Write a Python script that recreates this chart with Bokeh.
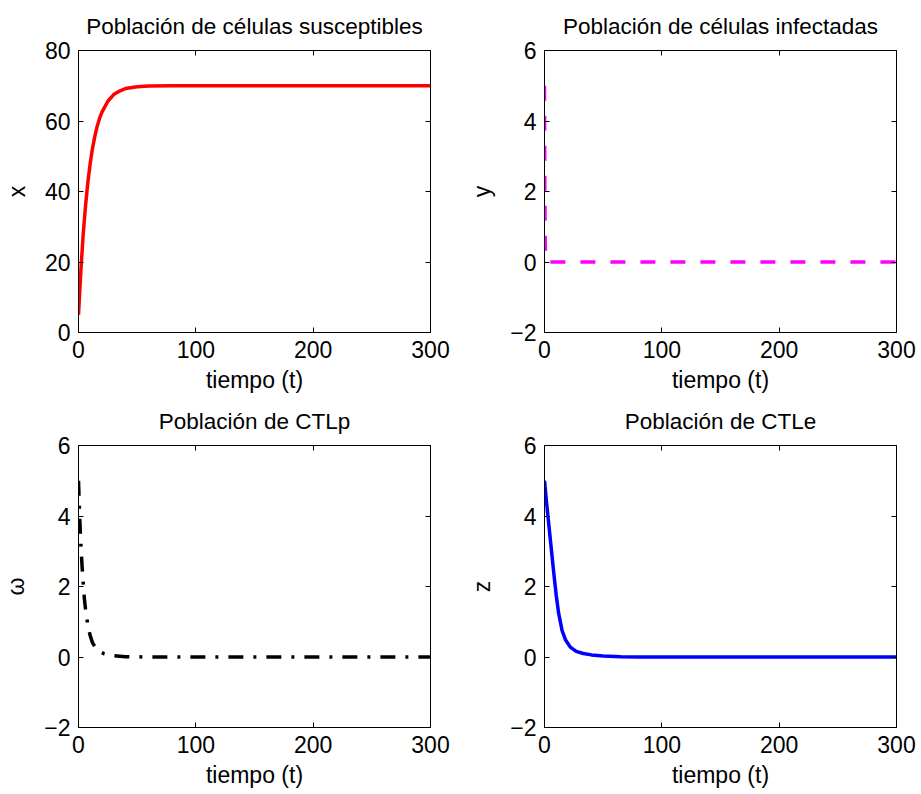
from bokeh.plotting import figure
from bokeh.layouts import gridplot
from bokeh.models import LinearAxis, FixedTicker, Range1d
from bokeh.embed import file_html
from bokeh.resources import INLINE

FONT = "Liberation Sans"

# ---- data ----
t_x = [0, 2, 4, 6, 8, 10, 12, 14, 16, 18, 20, 25, 30, 35, 40, 50, 60, 80, 100, 300]
x_vals = [5, 17.5, 27.8, 36, 42.7, 48, 52.4, 55.8, 58.6, 60.8, 62.5, 65.6, 67.5, 68.5, 69.2, 69.7, 69.9, 70, 70, 70]

t_y = [0, 0.3, 0.6, 1, 2, 300]
y_vals = [5, 2.0, 0.6, 0.1, 0, 0]

t_w = [0, 1, 2, 3, 4, 5, 6, 8, 10, 12, 15, 18, 22, 26, 30, 40, 60, 300]
w_vals = [5, 4.0, 3.2, 2.6, 2.1, 1.65, 1.35, 0.9, 0.6, 0.4, 0.24, 0.15, 0.09, 0.06, 0.04, 0.01, 0, 0]

t_z = [0, 2, 4, 6, 8, 10, 12, 15, 18, 22, 27, 33, 40, 50, 65, 80, 300]
z_vals = [5, 4.3, 3.65, 3.0, 2.35, 1.75, 1.25, 0.75, 0.48, 0.28, 0.16, 0.1, 0.06, 0.03, 0.01, 0, 0]

titles = ["Población de células susceptibles", "Población de células infectadas",
          "Población de CTLp", "Población de CTLe"]
ylabels = ["x", "y", "ω", "z"]
x_ticks = [0, 100, 200, 300]
y_ticks_top_left = [0, 20, 40, 60, 80]
y_ticks_other = [-2, 0, 2, 4, 6]


def make(title, ylabel, yr, yticks, left, right, top, bottom):
    p = figure(frame_width=352, frame_height=282, output_backend="svg",
               toolbar_location=None, x_range=Range1d(0, 300), y_range=Range1d(*yr),
               min_border_left=left, min_border_right=right,
               min_border_top=top, min_border_bottom=bottom,
               x_axis_label="tiempo (t)", y_axis_label=ylabel)
    p.title.text = title
    p.title.align = "center"
    p.title.text_font = FONT
    p.title.text_font_size = "22.5px"
    p.title.text_font_style = "normal"
    p.title.text_color = "black"
    p.title.standoff = 23
    p.xgrid.visible = False
    p.ygrid.visible = False
    p.outline_line_color = "black"
    p.outline_line_width = 1
    p.background_fill_color = "white"
    p.border_fill_color = "white"
    overrides = {v: ("−" + str(-v)) if v < 0 else str(v) for v in yticks}
    p.xaxis.ticker = FixedTicker(ticks=x_ticks)
    p.yaxis.ticker = FixedTicker(ticks=yticks)
    p.yaxis.major_label_overrides = overrides
    for ax in list(p.xaxis) + list(p.yaxis):
        ax.major_tick_in = 5
        ax.major_tick_out = 0
        ax.minor_tick_line_color = None
        ax.axis_line_color = "black"
        ax.major_tick_line_color = "black"
        ax.major_label_text_font = FONT
        ax.major_label_text_font_size = "23px"
        ax.major_label_text_color = "black"
        ax.axis_label_text_font = FONT
        ax.axis_label_text_font_size = "23px"
        ax.axis_label_text_font_style = "normal"
        ax.axis_label_text_color = "black"
        ax.major_label_standoff = 8
        ax.axis_label_standoff = 6
    p.yaxis.axis_label_standoff = 12
    # box ticks on the top and right (no labels)
    top_ax = LinearAxis(ticker=FixedTicker(ticks=x_ticks),
                        major_label_overrides={v: "" for v in x_ticks},
                        major_tick_in=5, major_tick_out=0, minor_tick_line_color=None,
                        axis_line_color="black", major_label_standoff=0)
    right_ax = LinearAxis(ticker=FixedTicker(ticks=yticks),
                          major_label_overrides={v: "" for v in yticks},
                          major_tick_in=5, major_tick_out=0, minor_tick_line_color=None,
                          axis_line_color="black", major_label_standoff=0)
    p.add_layout(top_ax, "above")
    p.add_layout(right_ax, "right")
    return p


p1 = make(titles[0], ylabels[0], (0, 80), y_ticks_top_left, 78, 30, 50, 63)
p1.line(t_x, x_vals, line_color="red", line_width=3.5)

p2 = make(titles[1], ylabels[1], (-2, 6), y_ticks_other, 84, 25, 50, 63)
p2.line(t_y, y_vals, line_color="magenta", line_width=3.5, line_dash="15 15")

p3 = make(titles[2], ylabels[2], (-2, 6), y_ticks_other, 78, 30, 50, 67)
p3.line(t_w, w_vals, line_color="black", line_width=3.5, line_dash="15 10 3 10")

p4 = make(titles[3], ylabels[3], (-2, 6), y_ticks_other, 84, 25, 50, 67)
p4.line(t_z, z_vals, line_color="blue", line_width=3.5)

grid = gridplot([[p1, p2], [p3, p4]], toolbar_location=None)

open("out.html", "w").write(file_html(grid, INLINE))
